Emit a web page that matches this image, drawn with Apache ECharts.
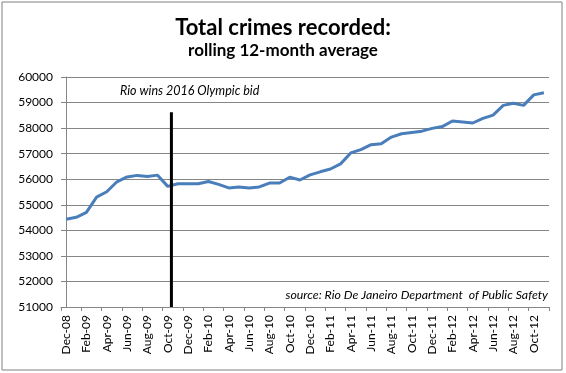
<!DOCTYPE html>
<html>
<head>
<meta charset="utf-8">
<script src="https://cdn.jsdelivr.net/npm/echarts@6/dist/echarts.min.js"></script>
<style>
html,body{margin:0;padding:0;background:#fff;}
#chart{width:566px;height:373px;}
</style>
</head>
<body>
<div id="chart"></div>
<script>
const months = ['Dec-08','Jan-09','Feb-09','Mar-09','Apr-09','May-09','Jun-09','Jul-09','Aug-09','Sep-09','Oct-09','Nov-09',
  'Dec-09','Jan-10','Feb-10','Mar-10','Apr-10','May-10','Jun-10','Jul-10','Aug-10','Sep-10','Oct-10','Nov-10',
  'Dec-10','Jan-11','Feb-11','Mar-11','Apr-11','May-11','Jun-11','Jul-11','Aug-11','Sep-11','Oct-11','Nov-11',
  'Dec-11','Jan-12','Feb-12','Mar-12','Apr-12','May-12','Jun-12','Jul-12','Aug-12','Sep-12','Oct-12','Nov-12'];
const crimes = [54430,54510,54700,55300,55510,55900,56090,56150,56110,56160,55720,55820,
  55820,55820,55910,55800,55660,55700,55660,55700,55850,55850,56080,55970,
  56170,56290,56400,56600,57030,57160,57350,57390,57650,57780,57830,57880,
  57990,58060,58280,58240,58200,58380,58510,58890,58970,58890,59300,59380];
const yTicks = {min: 51000, max: 60000, step: 1000};
// Olympic bid marker: position in month-index units (between Oct-09 and Nov-09) and top value
const bidMarkerIndex = 10.36;
const bidMarkerTop = 58620;
const bidLine = [[bidMarkerIndex, yTicks.min], [bidMarkerIndex, bidMarkerTop]];
const titleText = 'Total crimes recorded:';
const subtitleText = 'rolling 12-month average';
const bidText = 'Rio wins 2016 Olympic bid';
const sourceText = 'source: Rio De Janeiro Department  of Public Safety';

const FONT = 'Lato';
const chart = echarts.init(document.getElementById('chart'), null, {renderer: 'canvas'});
chart.setOption({
  backgroundColor: '#fff',
  animation: false,
  title: [
    {text: titleText, left: 'center', top: 12,
     textStyle: {fontFamily: FONT, fontWeight: 'bold', fontSize: 22, color: '#000'}},
    {text: subtitleText, left: 'center', top: 37,
     textStyle: {fontFamily: FONT, fontWeight: 'bold', fontSize: 17, color: '#000'}}
  ],
  grid: {left: 61, right: 17, top: 77, bottom: 66, containLabel: false},
  xAxis: [
    {type: 'category', data: months, boundaryGap: true,
     axisLine: {lineStyle: {color: '#868686', width: 1}},
     axisTick: {show: true, interval: 1, length: 4, lineStyle: {color: '#868686'}},
     axisLabel: {interval: 1, rotate: 90, margin: 8, fontFamily: FONT, fontSize: 12, color: '#000'},
     splitLine: {show: false}},
    {type: 'value', min: -0.5, max: months.length - 0.5, show: false}
  ],
  yAxis: {type: 'value', min: yTicks.min, max: yTicks.max, interval: yTicks.step,
    axisLine: {show: true, lineStyle: {color: '#868686'}},
    axisTick: {show: true, length: 4, lineStyle: {color: '#868686'}},
    axisLabel: {fontFamily: FONT, fontSize: 12, color: '#000', margin: 8,
      formatter: function (v) { return String(v); }},
    splitLine: {lineStyle: {color: '#868686', width: 1}}},
  series: [
    {type: 'line', data: crimes, xAxisIndex: 0, symbol: 'none', smooth: false,
     lineStyle: {color: '#4A7EBB', width: 3}, z: 3},
    {type: 'line', data: bidLine, xAxisIndex: 1, symbol: 'none',
     lineStyle: {color: '#000', width: 3}, z: 4}
  ],
  graphic: [
    {type: 'rect', shape: {x: 2, y: 2, width: 560, height: 368},
     style: {fill: 'none', stroke: '#808080', lineWidth: 1}, z: 10, silent: true},
    {type: 'text', left: 120, top: 84,
     style: {text: bidText, fontFamily: FONT, fontStyle: 'italic', fontSize: 12.5, fill: '#000'}},
    {type: 'text', right: 18, top: 289,
     style: {text: sourceText, fontFamily: FONT, fontStyle: 'italic', fontSize: 12.3, fill: '#000'}}
  ]
});
</script>
</body>
</html>
